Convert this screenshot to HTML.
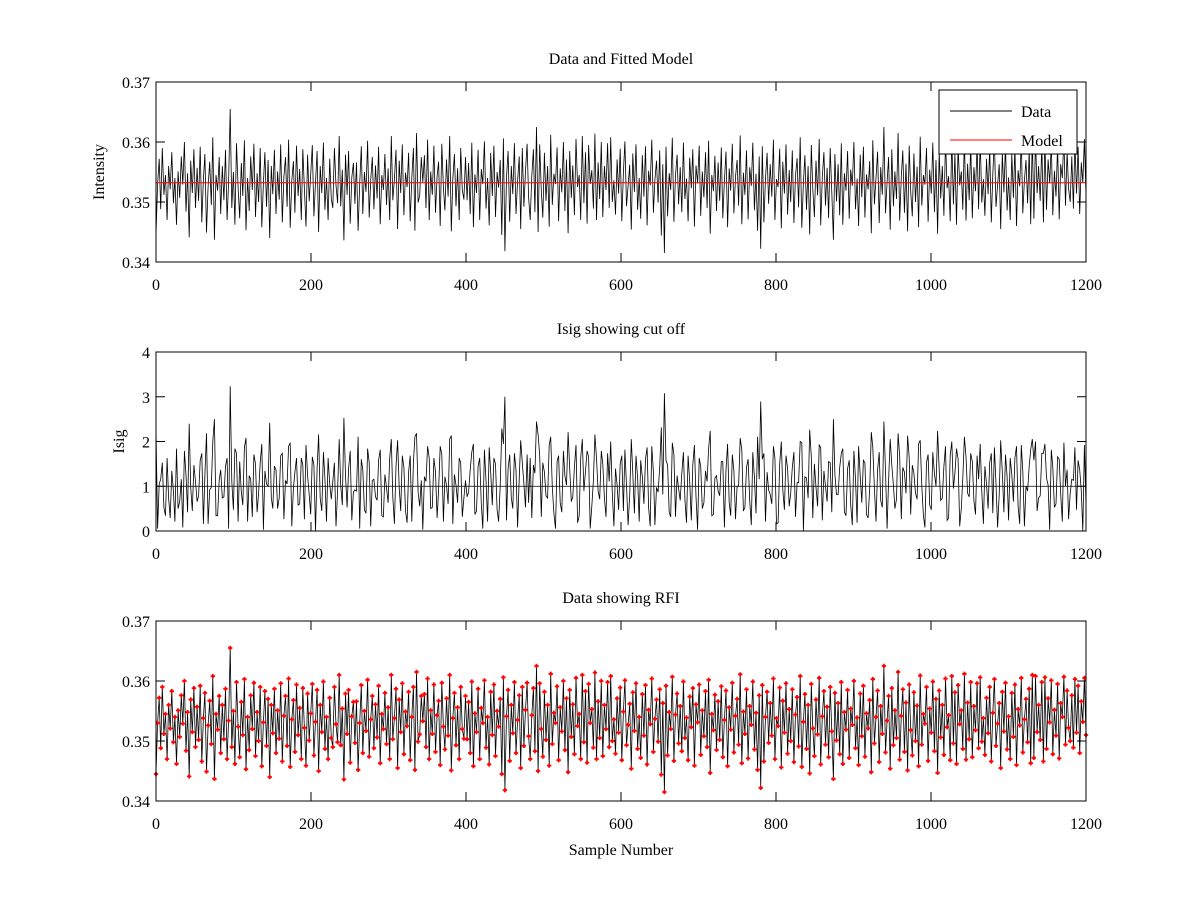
<!DOCTYPE html>
<html><head><meta charset="utf-8"><style>
body{margin:0;background:#fff;}
svg text{font-family:"Liberation Serif",serif;font-size:16px;fill:#000;}
</style></head><body>
<svg id="fig" width="1200" height="900" xmlns="http://www.w3.org/2000/svg"></svg>
<script>
const xTicks=[0,200,400,600,800,1000,1200];
const intensityTicks=[0.34,0.35,0.36,0.37];
const isigTicks=[0,1,2,3,4];
const modelValue=0.3532;
const sigma=0.0038;
const cutoff=1;
const sampleMax=1200;
const intensity=[
0.3445,0.3530,0.3572,0.3488,0.3590,0.3512,0.3545,0.3470,0.3560,0.3521,
0.3583,0.3498,0.3540,0.3462,0.3551,0.3507,0.3576,0.3529,0.3600,0.3484,
0.3548,0.3441,0.3569,0.3515,0.3588,0.3490,0.3557,0.3502,0.3592,0.3466,
0.3538,0.3580,0.3449,0.3526,0.3567,0.3495,0.3608,0.3437,0.3545,0.3519,
0.3575,0.3480,0.3560,0.3503,0.3587,0.3470,0.3534,0.3655,0.3490,0.3550,
0.3462,0.3598,0.3524,0.3473,0.3565,0.3510,0.3603,0.3453,0.3540,0.3485,
0.3576,0.3520,0.3597,0.3475,0.3548,0.3500,0.3590,0.3458,0.3531,0.3583,
0.3492,0.3570,0.3440,0.3560,0.3513,0.3587,0.3480,0.3551,0.3504,0.3596,
0.3466,0.3542,0.3575,0.3492,0.3604,0.3457,0.3536,0.3568,0.3482,0.3594,
0.3510,0.3555,0.3470,0.3588,0.3522,0.3459,0.3579,0.3501,0.3546,0.3595,
0.3476,0.3532,0.3585,0.3450,0.3560,0.3515,0.3599,0.3487,0.3540,0.3470,
0.3572,0.3505,0.3490,0.3590,0.3528,0.3498,0.3610,0.3493,0.3554,0.3436,
0.3579,0.3512,0.3585,0.3464,0.3541,0.3565,0.3497,0.3566,0.3452,0.3530,
0.3593,0.3480,0.3550,0.3517,0.3602,0.3474,0.3536,0.3575,0.3488,0.3561,
0.3506,0.3592,0.3463,0.3545,0.3520,0.3580,0.3495,0.3556,0.3470,0.3610,
0.3503,0.3538,0.3587,0.3455,0.3569,0.3515,0.3596,0.3478,0.3549,0.3525,
0.3582,0.3468,0.3540,0.3590,0.3452,0.3615,0.3499,0.3511,0.3575,0.3533,
0.3578,0.3490,0.3604,0.3470,0.3551,0.3512,0.3594,0.3482,0.3543,0.3567,
0.3460,0.3597,0.3524,0.3486,0.3571,0.3509,0.3610,0.3451,0.3538,0.3580,
0.3493,0.3556,0.3470,0.3590,0.3520,0.3504,0.3575,0.3503,0.3565,0.3480,
0.3599,0.3458,0.3546,0.3515,0.3587,0.3470,0.3555,0.3530,0.3601,0.3489,
0.3540,0.3461,0.3582,0.3510,0.3594,0.3475,0.3550,0.3524,0.3570,0.3445,
0.3606,0.3418,0.3541,0.3585,0.3467,0.3560,0.3513,0.3598,0.3480,0.3535,
0.3576,0.3455,0.3590,0.3492,0.3552,0.3597,0.3508,0.3470,0.3543,0.3588,
0.3483,0.3625,0.3450,0.3596,0.3520,0.3474,0.3582,0.3502,0.3560,0.3459,
0.3612,0.3495,0.3547,0.3530,0.3591,0.3468,0.3556,0.3516,0.3600,0.3485,
0.3571,0.3448,0.3585,0.3507,0.3561,0.3478,0.3605,0.3525,0.3545,0.3470,
0.3610,0.3498,0.3583,0.3464,0.3595,0.3530,0.3553,0.3489,0.3614,0.3470,
0.3566,0.3505,0.3600,0.3475,0.3560,0.3520,0.3598,0.3490,0.3608,0.3500,
0.3536,0.3479,0.3571,0.3514,0.3589,0.3468,0.3549,0.3601,0.3493,0.3527,
0.3562,0.3454,0.3581,0.3517,0.3596,0.3487,0.3540,0.3472,0.3578,0.3509,
0.3593,0.3461,0.3552,0.3528,0.3604,0.3482,0.3537,0.3569,0.3499,0.3586,
0.3444,0.3563,0.3415,0.3592,0.3476,0.3548,0.3520,0.3607,0.3467,0.3544,
0.3579,0.3496,0.3558,0.3483,0.3599,0.3505,0.3539,0.3468,0.3574,0.3523,
0.3588,0.3459,0.3561,0.3531,0.3594,0.3477,0.3551,0.3508,0.3583,0.3490,
0.3602,0.3447,0.3545,0.3518,0.3577,0.3485,0.3566,0.3502,0.3591,0.3473,
0.3535,0.3584,0.3458,0.3556,0.3519,0.3597,0.3481,0.3542,0.3570,0.3494,
0.3611,0.3463,0.3549,0.3512,0.3586,0.3471,0.3558,0.3527,0.3599,0.3486,
0.3547,0.3452,0.3576,0.3422,0.3593,0.3466,0.3540,0.3582,0.3497,0.3563,
0.3509,0.3604,0.3470,0.3538,0.3525,0.3589,0.3456,0.3567,0.3514,0.3596,
0.3479,0.3553,0.3500,0.3586,0.3465,0.3544,0.3573,0.3491,0.3608,0.3457,
0.3532,0.3578,0.3487,0.3560,0.3446,0.3595,0.3521,0.3475,0.3569,0.3511,
0.3605,0.3461,0.3541,0.3583,0.3494,0.3557,0.3473,0.3590,0.3516,0.3437,
0.3580,0.3501,0.3563,0.3478,0.3598,0.3462,0.3548,0.3519,0.3585,0.3472,
0.3554,0.3527,0.3600,0.3488,0.3539,0.3460,0.3579,0.3508,0.3592,0.3474,
0.3546,0.3521,0.3568,0.3448,0.3603,0.3496,0.3540,0.3584,0.3465,0.3558,
0.3512,0.3625,0.3481,0.3534,0.3575,0.3454,0.3588,0.3493,0.3551,0.3505,
0.3615,0.3469,0.3542,0.3586,0.3482,0.3564,0.3451,0.3594,0.3518,0.3476,
0.3581,0.3500,0.3559,0.3458,0.3609,0.3494,0.3545,0.3529,0.3590,0.3467,
0.3554,0.3514,0.3599,0.3483,0.3570,0.3447,0.3584,0.3506,0.3560,0.3477,
0.3604,0.3523,0.3543,0.3468,0.3608,0.3496,0.3581,0.3462,0.3593,0.3528,
0.3551,0.3487,0.3612,0.3469,0.3564,0.3503,0.3598,0.3473,0.3558,0.3518,
0.3596,0.3488,0.3606,0.3499,0.3538,0.3477,0.3572,0.3513,0.3590,0.3466,
0.3547,0.3603,0.3492,0.3529,0.3563,0.3455,0.3582,0.3516,0.3597,0.3486,
0.3541,0.3470,0.3580,0.3507,0.3594,0.3460,0.3553,0.3526,0.3605,0.3481,
0.3536,0.3570,0.3498,0.3587,0.3463,0.3610,0.3472,0.3608,0.3515,0.3560,
0.3502,0.3598,0.3466,0.3606,0.3487,0.3571,0.3531,0.3601,0.3478,0.3552,
0.3509,0.3595,0.3471,0.3563,0.3540,0.3607,0.3494,0.3584,0.3522,0.3500,
0.3576,0.3489,0.3603,0.3514,0.3592,0.3480,0.3566,0.3532,0.3605,0.3510];

const svg=document.getElementById('fig');
const NS='http://www.w3.org/2000/svg';
function mk(tag,attrs,parent){const e=document.createElementNS(NS,tag);for(const k in attrs)e.setAttribute(k,attrs[k]);(parent||svg).appendChild(e);return e;}
const L=156,R=1086;
const xs=v=>L+(v-0)/(1200-0)*(R-L);
const sampleAt=i=>i*sampleMax/(intensity.length-1);
function yScale(top,bot,min,max){return v=>bot-(v-min)/(max-min)*(bot-top);}

function axes(name,top,bot,yt,ys,fmt,title,ylabel,ylabelX){
  const g=mk('g',{});
  
  
  const box=mk('rect',{x:L,y:top,width:R-L,height:bot-top,fill:'none',stroke:'#000','stroke-width':1},g);
  
  
  xTicks.forEach(t=>{
    const x=xs(t);
    mk('line',{x1:x,x2:x,y1:bot,y2:bot-9,stroke:'#000'},g);
    mk('line',{x1:x,x2:x,y1:top,y2:top+9,stroke:'#000'},g);
    const tx=mk('text',{x:x,y:bot+28,'text-anchor':'middle'},g);tx.textContent=t;
    
    
  });
  yt.forEach(t=>{
    const y=ys(t);
    mk('line',{x1:L,x2:L+9,y1:y,y2:y,stroke:'#000'},g);
    mk('line',{x1:R,x2:R-9,y1:y,y2:y,stroke:'#000'},g);
    const tx=mk('text',{x:L-6,y:y+6,'text-anchor':'end'},g);tx.textContent=fmt(t);
    
    
  });
  const tt=mk('text',{x:(L+R)/2,y:top-18,'text-anchor':'middle'},g);tt.textContent=title;
  
  
  if(ylabel){const yl=mk('text',{x:ylabelX,y:(top+bot)/2,'text-anchor':'middle',transform:`rotate(-90 ${ylabelX} ${(top+bot)/2})`},g);yl.textContent=ylabel;
    
    }
  return g;
}
function path(vals,sy,color,w,name){
  const d=vals.map((v,i)=>(i?'L':'M')+xs(sampleAt(i)).toFixed(1)+' '+sy(v).toFixed(1)).join('');
  const p=mk('path',{d:d,fill:'none',stroke:color,'stroke-width':w});
  
  
  return p;
}
// Top
const y1=yScale(82,262,0.34,0.37);
path(intensity,y1,'#000',0.8,'data-line');
const ml=mk('line',{x1:xs(0),x2:xs(1200),y1:y1(modelValue),y2:y1(modelValue),stroke:'#f00','stroke-width':1});


axes('data-fitted-model-plot',82,262,intensityTicks,y1,t=>t.toFixed(2),'Data and Fitted Model','Intensity',104);
const lg=mk('g',{});


mk('rect',{x:939,y:90,width:138,height:64,fill:'#fff',stroke:'#000'},lg);
mk('line',{x1:950,x2:1012,y1:111,y2:111,stroke:'#000'},lg);
mk('line',{x1:950,x2:1012,y1:140,y2:140,stroke:'#f00'},lg);
const l1=mk('text',{x:1021,y:117},lg);l1.textContent='Data';


const l2=mk('text',{x:1021,y:146},lg);l2.textContent='Model';


// Middle
const y2=yScale(352,531,0,4);
const isig=intensity.map(v=>Math.abs(v-modelValue)/sigma);
path(isig,y2,'#000',0.8,'isig-line');
const cl=mk('line',{x1:xs(0),x2:xs(1200),y1:y2(cutoff),y2:y2(cutoff),stroke:'#000','stroke-width':0.7});


axes('isig-plot',352,531,isigTicks,y2,t=>String(t),'Isig showing cut off','Isig',124);
// Bottom
const y3=yScale(621,801,0.34,0.37);
path(intensity,y3,'#000',0.8,'rfi-data-line');
intensity.forEach((v,i)=>{
  const x=xs(sampleAt(i)),y=y3(v);
  const m=mk('path',{d:`M${x-2.2} ${y}H${x+2.2}M${x} ${y-2.2}V${y+2.2}`,stroke:'#f00','stroke-width':1.8});
  
  
});
axes('rfi-plot',621,801,intensityTicks,y3,t=>t.toFixed(2),'Data showing RFI',null,0);
const xl=mk('text',{x:(L+R)/2,y:855,'text-anchor':'middle'});xl.textContent='Sample Number';


</script>
</body></html>
